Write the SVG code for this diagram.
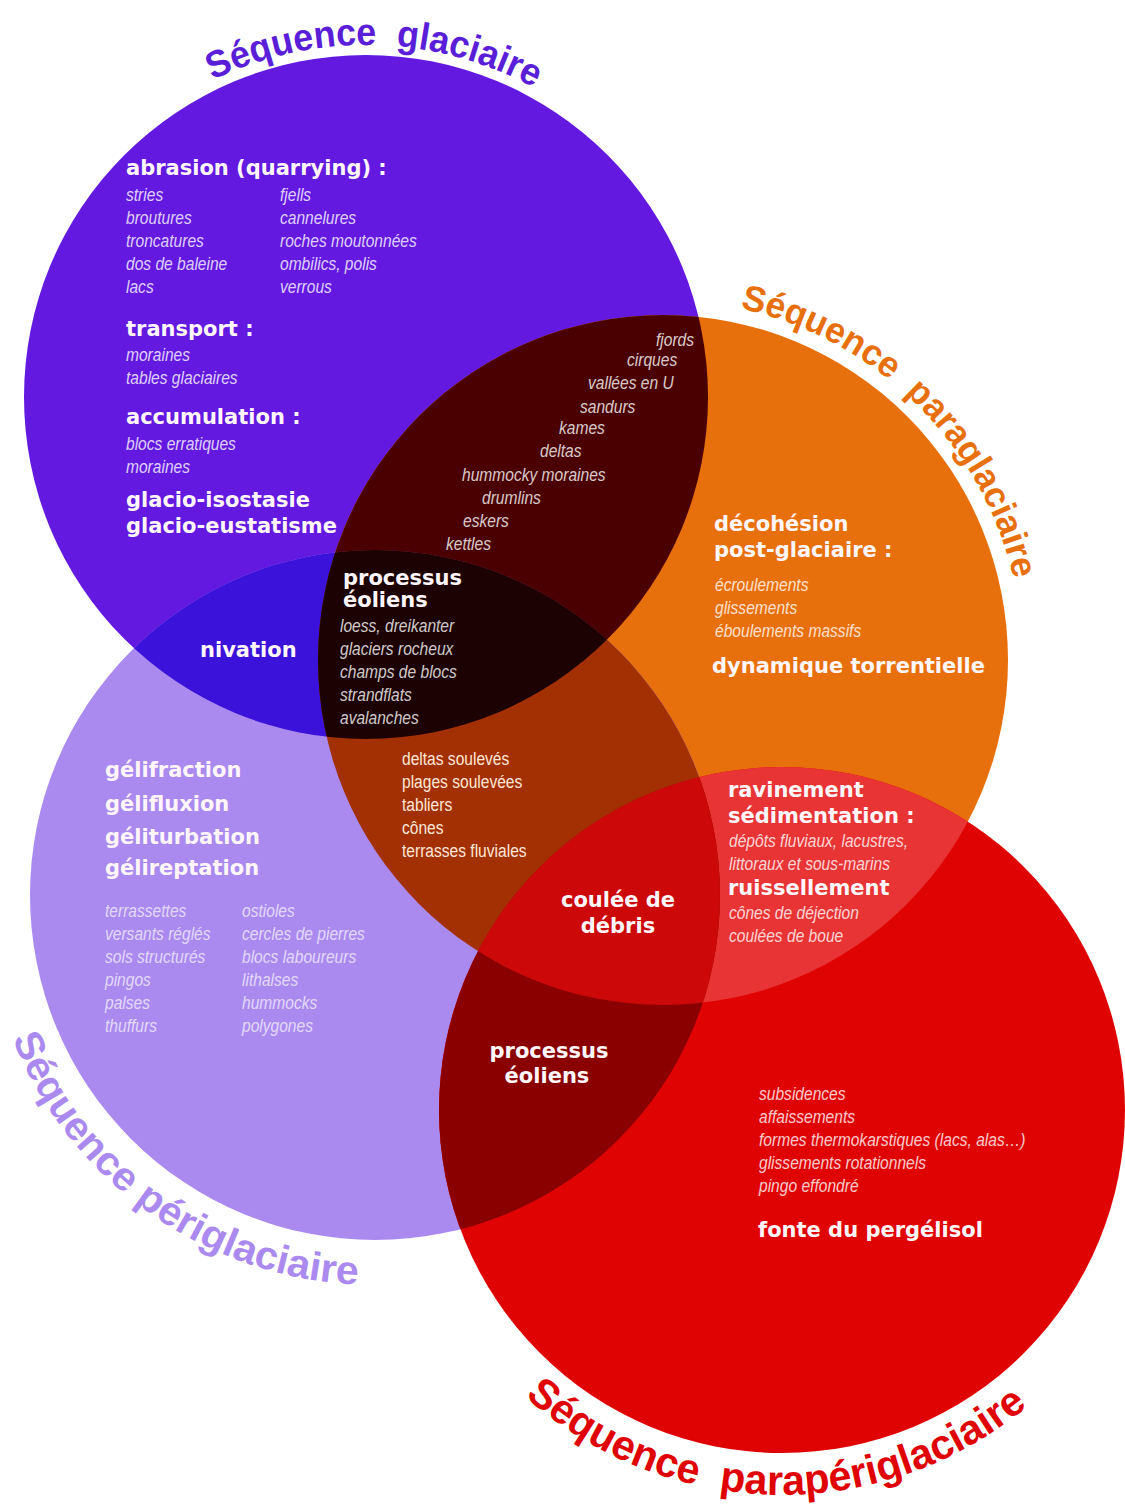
<svg xmlns="http://www.w3.org/2000/svg" width="1125" height="1509" viewBox="0 0 1125 1509">
<defs>
<clipPath id="cG"><circle cx="366" cy="397" r="342"/></clipPath>
<clipPath id="cP"><circle cx="663" cy="660" r="345"/></clipPath>
<clipPath id="cPe"><circle cx="375" cy="895" r="345"/></clipPath>
<clipPath id="cR"><circle cx="782" cy="1110" r="343"/></clipPath>
<path id="arcG" d="M14,397 A352,352 0 0 1 718,397"/>
<path id="arcP" d="M303,660 A360,360 0 0 1 1023,660"/>
<path id="arcPe" d="M-15,895 A390,390 0 0 0 765,895"/>
<path id="arcR" d="M397,1110 A385,385 0 0 0 1167,1110"/>
</defs>
<style>
.b{font-family:"DejaVu Sans","Liberation Sans",sans-serif;font-weight:bold;font-size:21px;fill:#fff6fb}
.i{font-family:"Liberation Sans",Arial,sans-serif;font-style:italic;font-size:19px;fill:#ffffff;fill-opacity:.8}
.n{font-family:"Liberation Sans",Arial,sans-serif;font-size:19px;fill:#ffe6d6}
.f{fill-opacity:.68}
.t{font-family:"Liberation Sans",Arial,sans-serif;font-weight:bold}
.m{text-anchor:middle}
</style>
<rect width="1125" height="1509" fill="#ffffff"/>
<g id="regions">
<circle cx="366" cy="397" r="342" fill="#6419e1"/>
<circle cx="663" cy="660" r="345" fill="#e8700c"/>
<circle cx="375" cy="895" r="345" fill="#ab8af0"/>
<circle cx="782" cy="1110" r="343" fill="#e00303"/>
<circle cx="366" cy="397" r="342" fill="#4a0000" clip-path="url(#cP)"/>
<circle cx="366" cy="397" r="342" fill="#3b12d9" clip-path="url(#cPe)"/>
<circle cx="663" cy="660" r="345" fill="#a33002" clip-path="url(#cPe)"/>
<circle cx="663" cy="660" r="345" fill="#e83434" clip-path="url(#cR)"/>
<circle cx="375" cy="895" r="345" fill="#8a0000" clip-path="url(#cR)"/>
<g clip-path="url(#cPe)"><circle cx="366" cy="397" r="342" fill="#1c0202" clip-path="url(#cP)"/></g>
<g clip-path="url(#cR)"><circle cx="663" cy="660" r="345" fill="#cc0808" clip-path="url(#cPe)"/></g>
</g>
<g id="glaciaire">
<text class="t" font-size="38" fill="#5a1ed8"><textPath href="#arcG" startOffset="394" textLength="334" lengthAdjust="spacingAndGlyphs">Séquence&#160; glaciaire</textPath></text>
<text class="b" x="126" y="175">abrasion (quarrying) :</text>
<text class="i" transform="translate(126,201) scale(.82,1)">stries</text>
<text class="i" transform="translate(126,224) scale(.82,1)">broutures</text>
<text class="i" transform="translate(126,247) scale(.82,1)">troncatures</text>
<text class="i" transform="translate(126,270) scale(.82,1)">dos de baleine</text>
<text class="i" transform="translate(126,293) scale(.82,1)">lacs</text>
<text class="i" transform="translate(280,201) scale(.82,1)">fjells</text>
<text class="i" transform="translate(280,224) scale(.82,1)">cannelures</text>
<text class="i" transform="translate(280,247) scale(.82,1)">roches moutonnées</text>
<text class="i" transform="translate(280,270) scale(.82,1)">ombilics, polis</text>
<text class="i" transform="translate(280,293) scale(.82,1)">verrous</text>
<text class="b" x="126" y="336">transport :</text>
<text class="i" transform="translate(126,361) scale(.82,1)">moraines</text>
<text class="i" transform="translate(126,384) scale(.82,1)">tables glaciaires</text>
<text class="b" x="126" y="424">accumulation :</text>
<text class="i" transform="translate(126,450) scale(.82,1)">blocs erratiques</text>
<text class="i" transform="translate(126,473) scale(.82,1)">moraines</text>
<text class="b" x="126" y="507">glacio-isostasie</text>
<text class="b" x="126" y="533">glacio-eustatisme</text>
</g>
<g id="glaciaire-paraglaciaire">
<text class="i" transform="translate(656,346) scale(.82,1)">fjords</text>
<text class="i" transform="translate(627,366) scale(.82,1)">cirques</text>
<text class="i" transform="translate(588,389) scale(.82,1)">vallées en U</text>
<text class="i" transform="translate(580,413) scale(.82,1)">sandurs</text>
<text class="i" transform="translate(559,434) scale(.82,1)">kames</text>
<text class="i" transform="translate(540,457) scale(.82,1)">deltas</text>
<text class="i" transform="translate(462,481) scale(.82,1)">hummocky moraines</text>
<text class="i" transform="translate(482,504) scale(.82,1)">drumlins</text>
<text class="i" transform="translate(463,527) scale(.82,1)">eskers</text>
<text class="i" transform="translate(446,550) scale(.82,1)">kettles</text>
</g>
<g id="glaciaire-paraglaciaire-periglaciaire">
<text class="b" x="343" y="585">processus</text>
<text class="b" x="343" y="607">éoliens</text>
<text class="i" transform="translate(340,632) scale(.82,1)">loess, dreikanter</text>
<text class="i" transform="translate(340,655) scale(.82,1)">glaciers rocheux</text>
<text class="i" transform="translate(340,678) scale(.82,1)">champs de blocs</text>
<text class="i" transform="translate(340,701) scale(.82,1)">strandflats</text>
<text class="i" transform="translate(340,724) scale(.82,1)">avalanches</text>
</g>
<g id="glaciaire-periglaciaire">
<text class="b" x="200" y="657">nivation</text>
</g>
<g id="paraglaciaire">
<text class="t" font-size="36" fill="#e8700c"><textPath href="#arcP" startOffset="643" textLength="406" lengthAdjust="spacingAndGlyphs">Séquence&#160; paraglaciaire</textPath></text>
<text class="b" x="714" y="531">décohésion</text>
<text class="b" x="714" y="557">post-glaciaire :</text>
<text class="i" transform="translate(715,591) scale(.82,1)">écroulements</text>
<text class="i" transform="translate(715,614) scale(.82,1)">glissements</text>
<text class="i" transform="translate(715,637) scale(.82,1)">éboulements massifs</text>
<text class="b" x="712" y="673">dynamique torrentielle</text>
</g>
<g id="paraglaciaire-periglaciaire">
<text class="n" transform="translate(402,765) scale(.82,1)">deltas soulevés</text>
<text class="n" transform="translate(402,788) scale(.82,1)">plages soulevées</text>
<text class="n" transform="translate(402,811) scale(.82,1)">tabliers</text>
<text class="n" transform="translate(402,834) scale(.82,1)">cônes</text>
<text class="n" transform="translate(402,857) scale(.82,1)">terrasses fluviales</text>
</g>
<g id="periglaciaire">
<text class="t" font-size="40" fill="#ab8af0"><textPath href="#arcPe" startOffset="147" textLength="448" lengthAdjust="spacingAndGlyphs">Séquence périglaciaire</textPath></text>
<text class="b" x="105" y="777">gélifraction</text>
<text class="b" x="105" y="811">gélifluxion</text>
<text class="b" x="105" y="844">géliturbation</text>
<text class="b" x="105" y="875">gélireptation</text>
<text class="i f" transform="translate(105,917) scale(.82,1)">terrassettes</text>
<text class="i f" transform="translate(105,940) scale(.82,1)">versants réglés</text>
<text class="i f" transform="translate(105,963) scale(.82,1)">sols structurés</text>
<text class="i f" transform="translate(105,986) scale(.82,1)">pingos</text>
<text class="i f" transform="translate(105,1009) scale(.82,1)">palses</text>
<text class="i f" transform="translate(105,1032) scale(.82,1)">thuffurs</text>
<text class="i f" transform="translate(242,917) scale(.82,1)">ostioles</text>
<text class="i f" transform="translate(242,940) scale(.82,1)">cercles de pierres</text>
<text class="i f" transform="translate(242,963) scale(.82,1)">blocs laboureurs</text>
<text class="i f" transform="translate(242,986) scale(.82,1)">lithalses</text>
<text class="i f" transform="translate(242,1009) scale(.82,1)">hummocks</text>
<text class="i f" transform="translate(242,1032) scale(.82,1)">polygones</text>
</g>
<g id="paraglaciaire-paraperiglaciaire">
<text class="b" x="728" y="797">ravinement</text>
<text class="b" x="728" y="823">sédimentation :</text>
<text class="i" transform="translate(729,847) scale(.82,1)">dépôts fluviaux, lacustres,</text>
<text class="i" transform="translate(729,870) scale(.82,1)">littoraux et sous-marins</text>
<text class="b" x="728" y="895">ruissellement</text>
<text class="i" transform="translate(729,919) scale(.82,1)">cônes de déjection</text>
<text class="i" transform="translate(729,942) scale(.82,1)">coulées de boue</text>
</g>
<g id="paraglaciaire-periglaciaire-paraperiglaciaire">
<text class="b m" x="618" y="907">coulée de</text>
<text class="b m" x="618" y="933">débris</text>
</g>
<g id="periglaciaire-paraperiglaciaire">
<text class="b m" x="549" y="1058">processus</text>
<text class="b m" x="547" y="1083">éoliens</text>
</g>
<g id="paraperiglaciaire">
<text class="t" font-size="42" fill="#e00303"><textPath href="#arcR" startOffset="323" textLength="548" lengthAdjust="spacingAndGlyphs">Séquence&#160; parapériglaciaire</textPath></text>
<text class="i" transform="translate(759,1100) scale(.82,1)">subsidences</text>
<text class="i" transform="translate(759,1123) scale(.82,1)">affaissements</text>
<text class="i" transform="translate(759,1146) scale(.82,1)">formes thermokarstiques (lacs, alas…)</text>
<text class="i" transform="translate(759,1169) scale(.82,1)">glissements rotationnels</text>
<text class="i" transform="translate(759,1192) scale(.82,1)">pingo effondré</text>
<text class="b" x="758" y="1237">fonte du pergélisol</text>
</g>
</svg>
